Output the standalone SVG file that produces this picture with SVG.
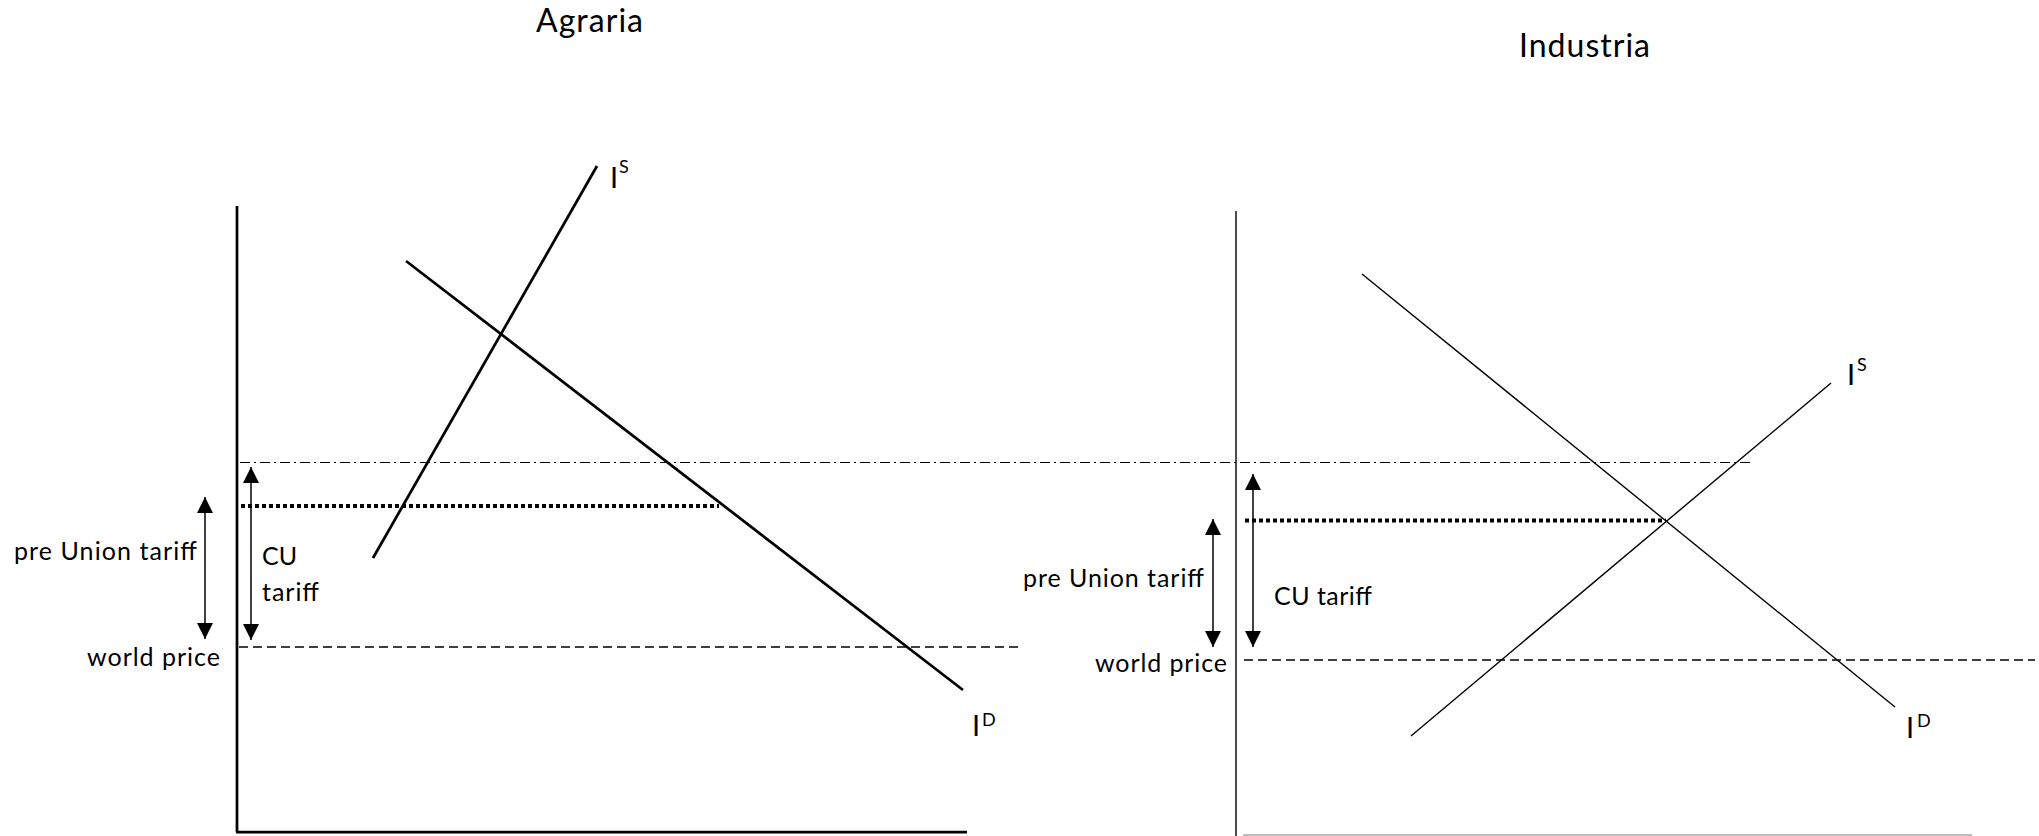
<svg xmlns="http://www.w3.org/2000/svg" width="2039" height="836" viewBox="0 0 2039 836">
<defs>
<marker id="ah" markerUnits="userSpaceOnUse" markerWidth="16" markerHeight="16" viewBox="0 0 15 15" refX="15" refY="7.5" orient="auto-start-reverse">
<path d="M0,0 L15,7.5 L0,15 z" fill="#000"/>
</marker>
</defs>
<style>
text{font-family:"Lato","Carlito","Liberation Sans",sans-serif;fill:#000}
.lab{font-size:25px}
.ttl{font-size:32px}
.big{font-size:29px}
.sup{font-size:18px}
.thick{stroke:#000;stroke-width:2.75;fill:none}
.thin{stroke:#000;stroke-width:1.4;fill:none}
.dd{stroke:#000;stroke-width:1.2;stroke-dasharray:10 4 2 4;fill:none}
.dot{stroke:#000;stroke-width:4;stroke-dasharray:4 3;fill:none}
.dash{stroke:#000;stroke-width:1.5;stroke-dasharray:9 5;fill:none}
.arr{stroke:#000;stroke-width:1.5;marker-start:url(#ah);marker-end:url(#ah)}
</style>
<rect width="2039" height="836" fill="#fff"/>

<g id="title-agraria"><text class="ttl" x="536" y="32" textLength="107">Agraria</text></g>
<g id="title-industria"><text class="ttl" x="1519" y="57" textLength="131">Industria</text></g>

<g id="agraria-axes">
<line class="thick" x1="237" y1="206" x2="237" y2="832"/>
<line class="thick" x1="236" y1="832" x2="967" y2="832"/>
</g>
<g id="agraria-supply">
<line class="thick" x1="597" y1="166" x2="373" y2="558"/>
<text class="big" x="610" y="188">I</text><text class="sup" x="619" y="173">S</text>
</g>
<g id="agraria-demand">
<line class="thick" x1="406" y1="261" x2="963" y2="690"/>
<text class="big" x="972" y="736">I</text><text class="sup" x="982" y="726">D</text>
</g>

<g id="industria-axes">
<line class="thin" x1="1236" y1="211" x2="1236" y2="836"/>
<line x1="1243" y1="835" x2="1972" y2="835" stroke="#bdbdbd" stroke-width="2"/>
</g>
<g id="industria-demand">
<line class="thin" x1="1362" y1="274" x2="1895" y2="707"/>
<text class="big" x="1906" y="738">I</text><text class="sup" x="1917" y="727">D</text>
</g>
<g id="industria-supply">
<line class="thin" x1="1831" y1="383" x2="1411" y2="736"/>
<text class="big" x="1847" y="385">I</text><text class="sup" x="1857" y="371">S</text>
</g>

<g id="price-lines">
<line class="dd" x1="240" y1="462.5" x2="1750" y2="462.5"/>
<line class="dot" x1="241" y1="506" x2="719" y2="506"/>
<line class="dot" x1="1245" y1="520.5" x2="1666" y2="520.5"/>
<line class="dash" x1="239" y1="647" x2="1020" y2="647"/>
<line class="dash" x1="1244" y1="660" x2="2035" y2="660"/>
</g>

<g id="connectors">
<line class="arr" x1="205" y1="497" x2="205" y2="639"/>
<line class="arr" x1="251" y1="467" x2="251" y2="640"/>
<line class="arr" x1="1213" y1="519" x2="1213" y2="647"/>
<line class="arr" x1="1253" y1="474" x2="1253" y2="647"/>
</g>

<g id="label-agraria-preunion"><text class="lab" x="14" y="560" textLength="183">pre Union tariff</text></g>
<g id="label-agraria-cu"><text class="lab" x="262" y="565">CU</text><text class="lab" x="262" y="601" textLength="57">tariff</text></g>
<g id="label-agraria-world"><text class="lab" x="87" y="666" textLength="133">world price</text></g>
<g id="label-industria-preunion"><text class="lab" x="1023" y="587" textLength="181">pre Union tariff</text></g>
<g id="label-industria-cu"><text class="lab" x="1274" y="605" textLength="98">CU tariff</text></g>
<g id="label-industria-world"><text class="lab" x="1095" y="672" textLength="132">world price</text></g>
</svg>
